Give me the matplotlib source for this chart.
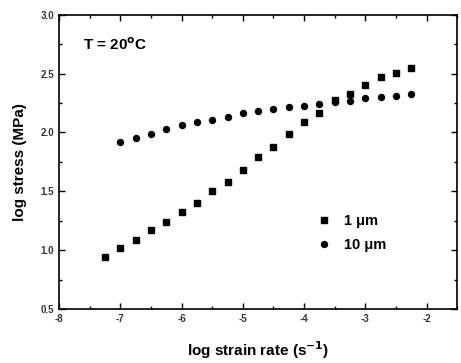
import numpy as np
import matplotlib
matplotlib.use('Agg')
from matplotlib import pyplot as plt
from matplotlib.ticker import MultipleLocator

plt.rcParams['font.family'] = ['Liberation Sans', 'DejaVu Sans']
plt.rcParams['font.weight'] = 'bold'

# 1 um grain size
rate_1um = [-7.25, -7.0, -6.75, -6.5, -6.25, -6.0, -5.75, -5.5, -5.25, -5.0, -4.75,
            -4.5, -4.25, -4.0, -3.75, -3.5, -3.25, -3.0, -2.75, -2.5, -2.25]
stress_1um = [0.94, 1.02, 1.09, 1.17, 1.24, 1.325, 1.40, 1.50, 1.58, 1.68, 1.79,
              1.88, 1.985, 2.09, 2.17, 2.28, 2.33, 2.40, 2.47, 2.51, 2.55]

# 10 um grain size
rate_10um = [-7.0, -6.75, -6.5, -6.25, -6.0, -5.75, -5.5, -5.25, -5.0, -4.75,
             -4.5, -4.25, -4.0, -3.75, -3.5, -3.25, -3.0, -2.75, -2.5, -2.25]
stress_10um = [1.92, 1.957, 1.99, 2.03, 2.06, 2.09, 2.11, 2.135, 2.165, 2.18,
               2.20, 2.22, 2.225, 2.24, 2.26, 2.27, 2.29, 2.30, 2.31, 2.33]

fig = plt.figure(figsize=(4.61, 3.63), dpi=100)
ax = fig.add_axes([0.128, 0.149, 0.864, 0.810])

ax.plot(rate_1um, stress_1um, 's', color='black', ms=4, label='1 \u03bcm')
ax.plot(rate_10um, stress_10um, 'o', color='black', ms=4.3, label='10 \u03bcm')

ax.set_xlim(-8, -1.5)
ax.set_ylim(0.5, 3.0)
ax.xaxis.set_minor_locator(MultipleLocator(0.5))
ax.yaxis.set_major_locator(MultipleLocator(0.5))
ax.yaxis.set_minor_locator(MultipleLocator(0.25))
ax.set_xticks([-8, -7, -6, -5, -4, -3, -2])
ax.set_xticklabels(['-8', '-7', '-6', '-5', '-4', '-3', '-2'])
ax.tick_params(which='both', direction='in', top=True, right=True, labelsize=7, width=1.0,
               labelcolor='#333333')
ax.tick_params(which='major', length=4)
ax.tick_params(which='minor', length=2)
for s in ax.spines.values():
    s.set_linewidth(1.2)

ax.set_xlabel('log strain rate (s$^{\\mathbf{-1}}$)', fontsize=11, fontweight='bold', labelpad=11)
ax.set_ylabel('log stress (MPa)', fontsize=11, fontweight='bold', labelpad=10)

ax.text(0.06, 0.88, 'T = 20$^{\\mathbf{o}}$C', transform=ax.transAxes, fontsize=11, fontweight='bold')

ax.legend(loc='lower right', bbox_to_anchor=(0.855, 0.15), frameon=False, fontsize=10.5,
          handletextpad=0.9, labelspacing=0.65, handlelength=1.0, markerscale=1.0)

plt.savefig('out.png', dpi=100)
